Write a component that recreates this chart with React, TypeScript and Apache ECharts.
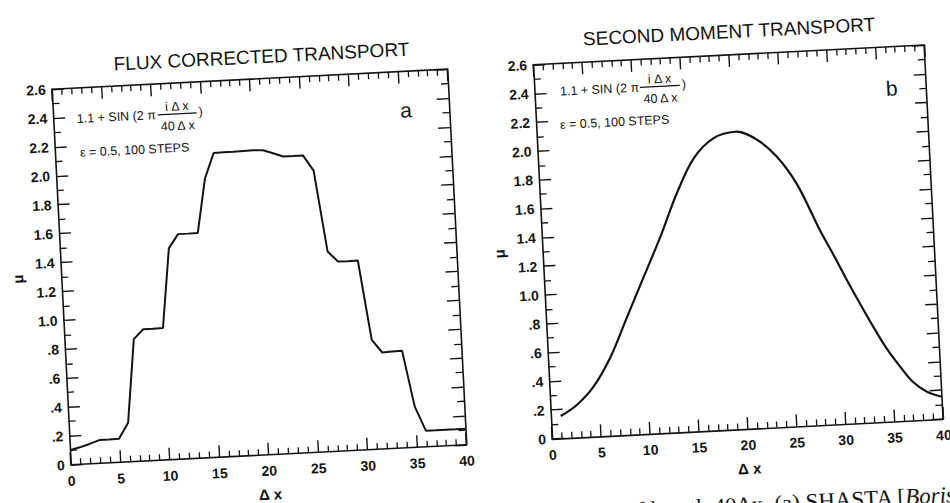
import React, { useEffect, useRef } from "react";
import * as echarts from "echarts";

// ---- Panel a: Flux corrected transport (value at each cell i = 0..40)
const fctCells = [0, 1, 2, 3, 4, 5, 6, 7, 8, 9, 10, 11, 12, 13, 14, 15, 16, 17, 18, 19, 20, 21, 22, 23, 24, 25, 26, 27, 28, 29, 30, 31, 32, 33, 34, 35, 36, 37, 38, 39, 40];
const fctValues = [
  0.1, 0.117, 0.137, 0.16, 0.16, 0.162, 0.27, 0.845, 0.91, 0.91, 0.912,
  1.46, 1.555, 1.555, 1.556, 1.93, 2.102, 2.104, 2.105, 2.107, 2.108,
  2.104, 2.08, 2.054, 2.054, 2.055, 1.946, 1.382, 1.31, 1.309, 1.31,
  0.757, 0.666, 0.669, 0.672, 0.281, 0.111, 0.11, 0.11, 0.11, 0.111,
];

// ---- Panel b: Second moment transport (smooth profile)
const smtX = [1, 2.7, 4.5, 6.4, 8.3, 10.2, 12.1, 14, 15.9, 18, 20.3, 22.5, 24.4, 26.3, 28.4, 29.65, 30.9, 32.1, 33.35, 34.6, 35.9, 37.1, 38.5, 40];
const smtY = [0.155, 0.226, 0.347, 0.549, 0.821, 1.092, 1.364, 1.659, 1.895, 2.027, 2.065, 2.0, 1.877, 1.68, 1.354, 1.18, 0.998, 0.832, 0.665, 0.51, 0.378, 0.269, 0.195, 0.155];

// ---- Tick labels
const xTickLabels = ["0", "5", "10", "15", "20", "25", "30", "35", "40"];
const yTickLabels = ["0", ".2", ".4", ".6", ".8", "1.0", "1.2", "1.4", "1.6", "1.8", "2.0", "2.2", "2.4", "2.6"];

const titles = ["FLUX CORRECTED TRANSPORT", "SECOND MOMENT TRANSPORT"];
const panelLetters = ["a", "b"];
const formulaLead = "1.1 + SIN (2 \u03c0";
const formulaNum = "i \u0394 x";
const formulaDen = "40 \u0394 x";
const runNote = "\u03b5 = 0.5, 100 STEPS";

const INK = "#141414";
const SANS = "'Liberation Sans', Arial, Helvetica, sans-serif";
const SERIF = "'Liberation Serif', 'Times New Roman', serif";

function buildOption() {
  const grids = [
    { left: 100.5, top: 108, width: 396, height: 376 },
    { left: 582.5, top: 108, width: 391.5, height: 374.5 },
  ];

  const axisLine = { show: true, onZero: false, lineStyle: { color: INK, width: 1.6 } };

  const xAxes: any[] = [];
  const yAxes: any[] = [];
  grids.forEach((_, gi) => {
    const baseX = {
      type: "value",
      gridIndex: gi,
      min: 0,
      max: 40,
      interval: 5,
      axisLine,
      axisTick: { show: true, inside: true, length: 12, lineStyle: { color: INK, width: 1.4 } },
      minorTick: { show: true, splitNumber: 5, length: 6, lineStyle: { color: INK, width: 1.3 } },
      splitLine: { show: false },
      minorSplitLine: { show: false },
    };
    xAxes.push({
      ...baseX,
      position: "bottom",
      axisLabel: {
        show: true,
        margin: 9,
        color: INK,
        fontFamily: SANS,
        fontSize: 14,
        fontWeight: "bold",
        formatter: (v: number) => xTickLabels[Math.round(v / 5)] ?? "",
      },
      name: "\u0394 x",
      nameLocation: "middle",
      nameGap: 32,
      nameTextStyle: { color: INK, fontFamily: SANS, fontSize: 15, fontWeight: "bold" },
    });
    xAxes.push({ ...baseX, position: "top", axisLabel: { show: false } });

    const baseY = {
      type: "value",
      gridIndex: gi,
      min: 0,
      max: 2.6,
      interval: 0.2,
      axisLine,
      axisTick: { show: true, inside: true, length: 12, lineStyle: { color: INK, width: 1.4 } },
      minorTick: { show: true, splitNumber: 2, length: 7, lineStyle: { color: INK, width: 1.3 } },
      splitLine: { show: false },
      minorSplitLine: { show: false },
    };
    yAxes.push({
      ...baseY,
      position: "left",
      axisLabel: {
        show: true,
        margin: 6,
        color: INK,
        fontFamily: SANS,
        fontSize: 14,
        fontWeight: "bold",
        formatter: (v: number) => yTickLabels[Math.round(v / 0.2)] ?? "",
      },
      name: "\u03bc",
      nameLocation: "middle",
      nameGap: 36,
      nameRotate: 90,
      nameTextStyle: { color: INK, fontFamily: SANS, fontSize: 15, fontWeight: "bold" },
    });
    yAxes.push({ ...baseY, position: "right", axisLabel: { show: false } });
  });

  const fctData = fctCells.map((c, i) => [c, fctValues[i]]);
  const smtData = smtX.map((x, i) => [x, smtY[i]]);

  const txt = (x: number, y: number, text: string, size: number, align = "left", extra: any = {}) => ({
    type: "text",
    x,
    y,
    silent: true,
    style: {
      text,
      fill: INK,
      fontFamily: SANS,
      fontSize: size,
      align,
      verticalAlign: "middle",
      ...extra,
    },
  });

  const formula = (left: number, barL: number, barR: number, barY: number, noteX: number, noteY: number) => {
    const cx = (barL + barR) / 2;
    return [
      txt(left, barY, formulaLead, 12.5),
      txt(cx, barY - 7.5, formulaNum, 12.5, "center"),
      {
        type: "line",
        silent: true,
        shape: { x1: barL, y1: barY, x2: barR, y2: barY },
        style: { stroke: INK, lineWidth: 1.2 },
      },
      txt(cx, barY + 12, formulaDen, 12.5, "center"),
      txt(barR + 2, barY - 1, ")", 12.5),
      txt(noteX, noteY, runNote, 12.5),
    ];
  };

  const graphic: any[] = [
    txt(311.6, 86, titles[0], 19, "center"),
    txt(779.8, 84.8, titles[1], 19, "center"),
    txt(453.3, 146.7, panelLetters[0], 21, "center"),
    txt(939.4, 149.6, panelLetters[1], 21, "center"),
    ...formula(124, 205, 244, 139, 125.5, 173),
    ...formula(608, 688, 728, 136, 606.3, 169.5),
    {
      type: "text",
      x: 982,
      y: 558.5,
      silent: true,
      style: {
        text: "{n|of length 40\u0394x. (a) SHASTA [}{i|Boris}",
        align: "right",
        verticalAlign: "middle",
        fill: INK,
        rich: {
          n: { fontFamily: SERIF, fontSize: 23, fill: INK },
          i: { fontFamily: SERIF, fontSize: 23, fontStyle: "italic", fill: INK },
        },
      },
    },
  ];

  return {
    animation: false,
    backgroundColor: "#ffffff",
    grid: grids,
    xAxis: xAxes,
    yAxis: yAxes,
    series: [
      {
        type: "line",
        xAxisIndex: 0,
        yAxisIndex: 0,
        data: fctData,
        showSymbol: false,
        smooth: false,
        lineStyle: { color: INK, width: 2 },
        silent: true,
      },
      {
        type: "line",
        xAxisIndex: 2,
        yAxisIndex: 2,
        data: smtData,
        showSymbol: false,
        smooth: 0.35,
        lineStyle: { color: INK, width: 2.2 },
        silent: true,
      },
    ],
    graphic,
  };
}

export default function App() {
  const ref = useRef<HTMLDivElement>(null);
  useEffect(() => {
    if (!ref.current) return;
    const chart = echarts.init(ref.current, null, { renderer: "svg" });
    chart.setOption(buildOption() as any);
    return () => chart.dispose();
  }, []);
  return (
    <div
      style={{
        position: "fixed",
        left: 0,
        top: 0,
        width: 950,
        height: 503,
        overflow: "hidden",
        background: "#ffffff",
      }}
    >
      <div
        ref={ref}
        style={{
          position: "absolute",
          left: -40,
          top: -40,
          width: 1030,
          height: 583,
          transform: "rotate(-2.9deg)",
          transformOrigin: "50% 50%",
        }}
      />
    </div>
  );
}
